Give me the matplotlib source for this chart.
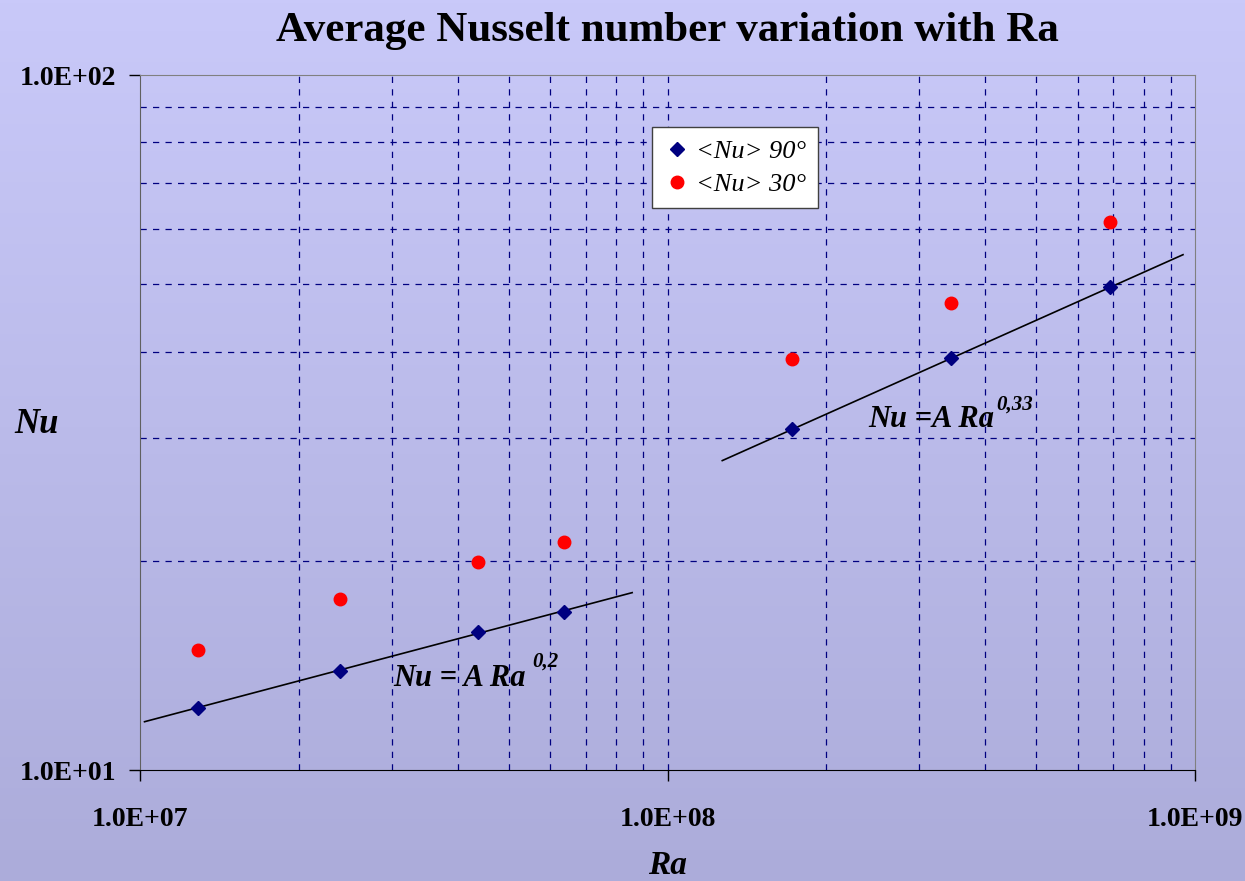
import matplotlib
matplotlib.use("Agg")
import matplotlib.pyplot as plt
import matplotlib.colors as mcolors
import numpy as np

# data
ra_90 = [1.29e7, 2.39e7, 4.37e7, 6.37e7, 1.72e8, 3.45e8, 6.90e8]
nu_90 = [12.3, 13.9, 15.8, 16.9, 30.9, 39.1, 49.5]
ra_30 = [1.29e7, 2.39e7, 4.37e7, 6.37e7, 1.72e8, 3.45e8, 6.90e8]
nu_30 = [14.9, 17.6, 19.9, 21.3, 39.0, 47.0, 61.4]

# ranges of the two power-law fits
fit_low_range = [1.02e7, 8.57e7]
fit_high_range = [1.27e8, 9.49e8]

W, H = 1245, 881
fig = plt.figure(figsize=(W / 100, H / 100), dpi=100)

# background gradient
bg = fig.add_axes([0, 0, 1, 1], zorder=-10)
grad = np.linspace(0, 1, 256).reshape(-1, 1)
cmap = mcolors.LinearSegmentedColormap.from_list("bg", ["#c9c9f9", "#acacda"])
bg.imshow(grad, aspect="auto", cmap=cmap, extent=[0, 1, 0, 1])
bg.axis("off")

ax = fig.add_axes([140 / W, (H - 770) / H, (1195 - 140) / W, (770 - 75) / H])
ax.patch.set_alpha(0)
ax.set_xscale("log")
ax.set_yscale("log")
ax.set_xlim(1e7, 1e9)
ax.set_ylim(10, 100)

serif = "Liberation Serif"

# grid
for dec in [1e7, 1e8]:
    for m in range(2, 10):
        ax.axvline(m * dec, color="#000080", lw=0.9, ls=(0, (5, 5)), zorder=1)
ax.axvline(1e8, color="#000080", lw=0.9, ls=(0, (5, 5)), zorder=1)
for m in range(2, 10):
    ax.axhline(m * 10, color="#000080", lw=0.9, ls=(0, (5, 5)), zorder=1)

# fits in log space
lx = np.log10(ra_90[:4]); ly = np.log10(nu_90[:4])
p1 = np.polyfit(lx, ly, 1)
hx = np.log10(ra_90[4:]); hy = np.log10(nu_90[4:])
p2 = np.polyfit(hx, hy, 1)
xs1 = np.array(fit_low_range)
xs2 = np.array(fit_high_range)
ax.plot(xs1, 10 ** np.polyval(p1, np.log10(xs1)), color="black", lw=1.2, zorder=2)
ax.plot(xs2, 10 ** np.polyval(p2, np.log10(xs2)), color="black", lw=1.2, zorder=2)

ax.plot(ra_90, nu_90, "D", color="#000080", ms=7, ls="none", zorder=3,
        label="<Nu> 90°")
ax.plot(ra_30, nu_30, "o", color="#ff0000", ms=9, ls="none", zorder=3,
        label="<Nu> 30°")

# annotations
ax.text(3.02e7, 13.55, "Nu = A Ra", fontfamily=serif, fontsize=22,
        fontweight="bold", style="italic", va="center")
ax.text(5.55e7, 14.3, "0,2", fontfamily=serif, fontsize=15,
        fontweight="bold", style="italic", va="center")
ax.text(2.4e8, 31.9, "Nu =A Ra", fontfamily=serif, fontsize=22,
        fontweight="bold", style="italic", va="center")
ax.text(4.2e8, 33.6, "0,33", fontfamily=serif, fontsize=15,
        fontweight="bold", style="italic", va="center")

# spines and ticks
for s in ["top", "right"]:
    ax.spines[s].set_color("#808080")
ax.spines["left"].set_color("#606060")
ax.spines["bottom"].set_color("black")
ax.set_xticks([1e7, 1e8, 1e9])
ax.set_xticklabels(["1.0E+07", "1.0E+08", "1.0E+09"])
ax.set_yticks([10, 100])
ax.set_yticklabels(["1.0E+01", "1.0E+02"])
ax.minorticks_off()
ax.tick_params(direction="out", length=8, width=1, pad=9)
ax.tick_params(axis="x", pad=19)
for lab in ax.get_xticklabels() + ax.get_yticklabels():
    lab.set_fontfamily(serif)
    lab.set_fontweight("bold")
    lab.set_fontsize(20)

ax.set_xlabel("Ra", fontfamily=serif, fontsize=24, fontweight="bold",
              style="italic", va="center")
ax.xaxis.set_label_coords(0.5, -0.137)
ax.set_ylabel("Nu", fontfamily=serif, fontsize=25, fontweight="bold",
              style="italic", rotation=0, va="center", ha="center")
ax.yaxis.set_label_coords(-0.098, 0.497)

fig.text(667 / W, 1 - 31 / H, "Average Nusselt number variation with Ra",
         fontfamily=serif, fontsize=31, fontweight="bold",
         ha="center", va="center")

leg = ax.legend(loc="upper left", bbox_to_anchor=(0.4729, 0.9436),
                prop={"family": serif, "style": "italic", "size": 19},
                frameon=True, fancybox=False, handletextpad=0.2,
                handlelength=1.0, borderpad=0.45, labelspacing=0.38)
leg.get_frame().set_edgecolor("#404040")
leg.get_frame().set_facecolor("white")
leg.get_frame().set_alpha(1)

fig.savefig("out.png", dpi=100)
